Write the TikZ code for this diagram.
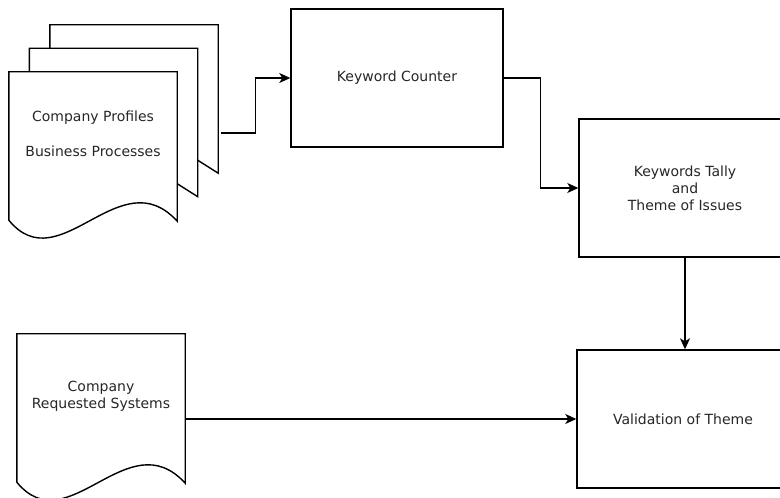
\documentclass[tikz,border=0pt]{standalone}
\usepackage{fontspec}
\setmainfont{DejaVu Sans}
\usepackage{tikz}
\usetikzlibrary{arrows.meta,calc,positioning}

\newcommand{\docsheet}[1]{%
\draw[line] (#1.south west) -- (#1.north west) -- (#1.north east) -- ($(#1.south east)+(0,-1)$)
  .. controls ($(#1.south west)+(111,62)$) and ($(#1.south west)+(51,-62)$) .. (#1.south west) -- cycle;}

\begin{document}
\begin{tikzpicture}[x=1pt,y=1pt,
  line/.style={line width=1.4pt},
  flow/.style={line width=1.4pt,-{Stealth[length=11pt,width=10pt,inset=3pt]}},
  box/.style={draw,line width=1.4pt,minimum width=212pt,minimum height=138pt,align=center,inner sep=0pt},
  sheet/.style={minimum width=168pt,minimum height=148pt,inner sep=0pt},
  doclabel/.style={align=center,inner sep=0pt},
  font=\fontsize{14}{17}\selectfont,text=black!85]
\useasboundingbox (0,0) rectangle (780,498);
\node[sheet] (profiles) at (93,352) {};
\foreach \d in {1,2}
  \draw[line] ($(profiles.north west)+(\d*20.5,\d*23.5-23.5)$) -- ++(0,23.5)
    -- ($(profiles.north east)+(\d*20.5,\d*23.5)$)
    -- ($(profiles.south east)+(\d*20.5,\d*23.5)$) -- ++(-20.5,13);
\docsheet{profiles}
\node[doclabel] (proftext) at ($(profiles.center)+(0,12)$) {Company Profiles\\[18pt]Business Processes};
\node[sheet] (reqsys) at (101,90) {};
\docsheet{reqsys}
\node[doclabel] (reqtext) at ($(reqsys.center)+(0,12)$) {Company\\Requested Systems};
\node[box] (counter) at (397,420) {Keyword Counter};
\node[box] (tally) at (685,310) {Keywords Tally\\and\\Theme of Issues};
\node[box] (valid) at (683,79) {Validation of Theme};
\coordinate (stackout) at ($(profiles.east)+(44,13)$);
\draw[flow] (stackout) -- ++(34,0) |- (counter.west);
\draw[flow] (counter.east) -- ++(37,0) |- (tally.west);
\draw[flow] (tally.south) -- (tally.south |- valid.north);
\draw[flow] (reqsys.east |- valid.west) -- (valid.west);
\end{tikzpicture}
\end{document}
